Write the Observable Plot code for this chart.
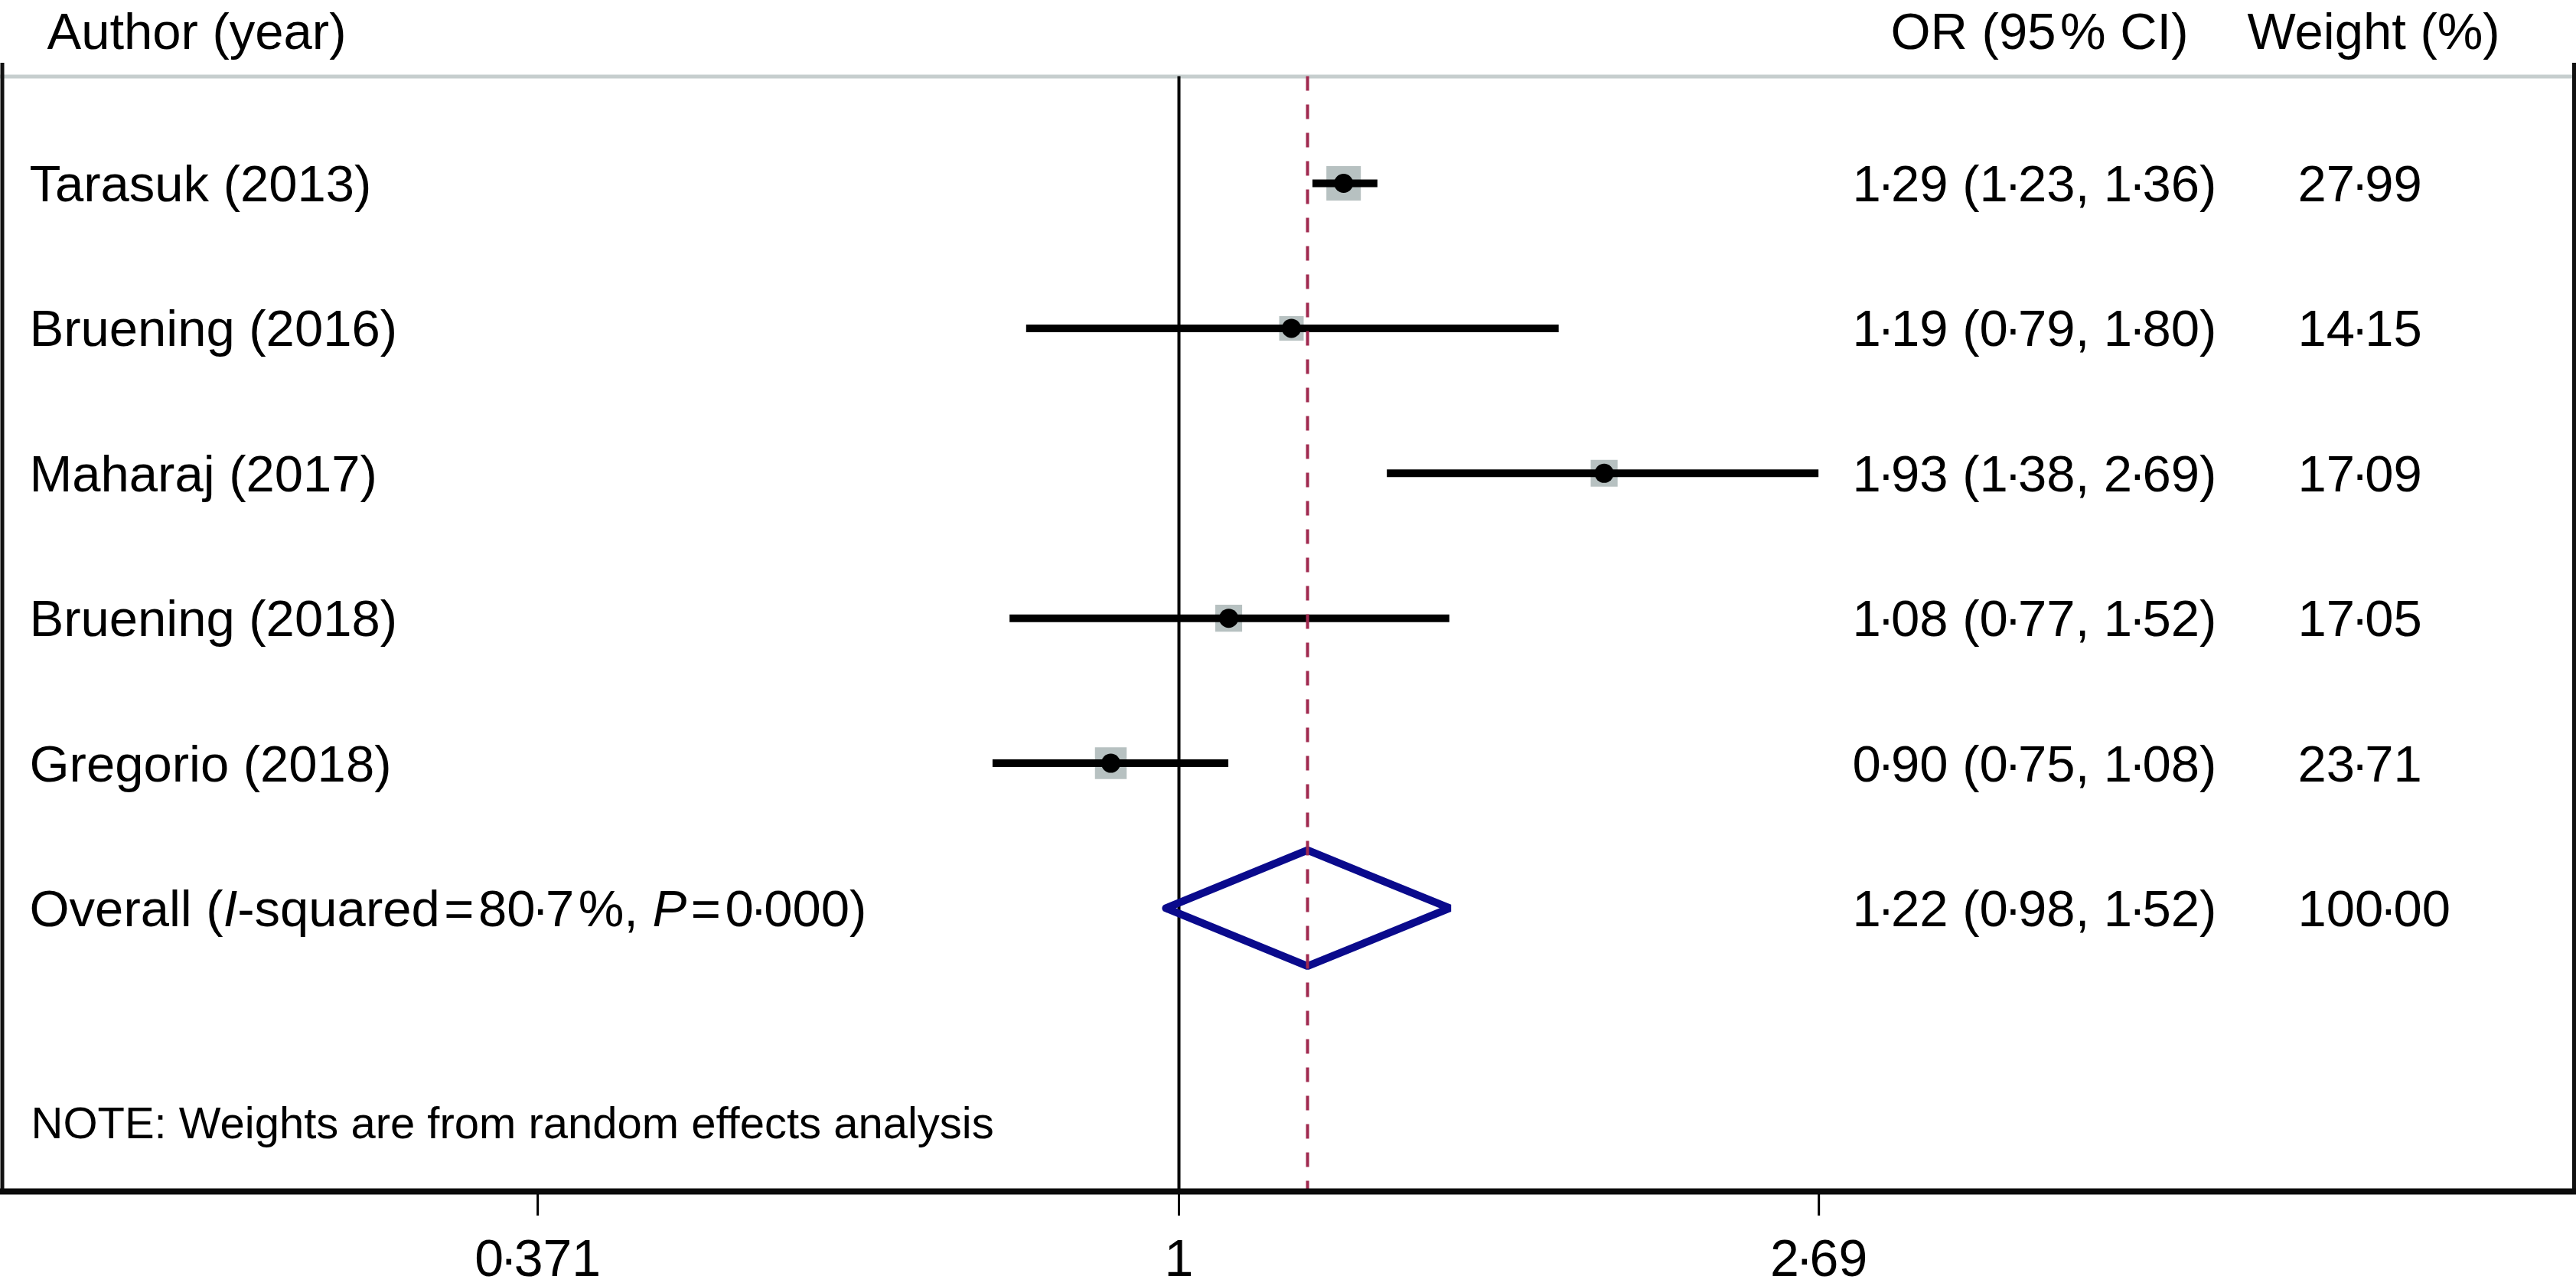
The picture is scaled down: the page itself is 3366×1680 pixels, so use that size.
<!DOCTYPE html>
<html>
<head>
<meta charset="utf-8">
<script src="https://cdn.jsdelivr.net/npm/d3@7"></script>
<script src="https://cdn.jsdelivr.net/npm/@observablehq/plot@0.6"></script>
<style>
  html, body { margin: 0; padding: 0; background: #ffffff; }
  #chart svg { display: block; }
</style>
</head>
<body>
<div id="chart"></div>
<script>
// ---- data ----
const studies = ["Tarasuk (2013)", "Bruening (2016)", "Maharaj (2017)", "Bruening (2018)", "Gregorio (2018)"];
const oddsRatios = [1.29, 1.19, 1.93, 1.08, 0.90];
const lowerCI = [1.23, 0.79, 1.38, 0.77, 0.75];
const upperCI = [1.36, 1.80, 2.69, 1.52, 1.08];
const weights = [27.99, 14.15, 17.09, 17.05, 23.71];
const overallOR = 1.22;
const overallLower = 0.98;
const overallUpper = 1.52;
const overallWeight = 100.00;
const iSquared = "80·7";
const pValue = "0·000";
const tickValues = [0.371, 1, 2.69];
const tickLabels = ["0·371", "1", "2·69"];
const headers = ["Author (year)", "OR (95\u200A% CI)", "Weight (%)"];
const note = "NOTE: Weights are from random effects analysis";

// ---- derived table ----
const fmt = v => v.toFixed(2).replace(".", "·");
const rows = studies.map((name, i) => ({
  name, row: i + 1, or: oddsRatios[i], lo: lowerCI[i], hi: upperCI[i], w: weights[i],
  orText: `${fmt(oddsRatios[i])} (${fmt(lowerCI[i])}, ${fmt(upperCI[i])})`,
  wText: fmt(weights[i])
}));
const overallRow = studies.length + 1;
const overallSegments = [
  ["Overall (", false], ["I", true], [`-squared\u200A=\u200A${iSquared}\u200A%, `, false],
  ["P", true], [`\u200A=\u200A${pValue})`, false]
];
const overallLabel = overallSegments.map(s => s[0]).join("");
const overallTable = [{
  name: overallLabel, row: overallRow,
  orText: `${fmt(overallOR)} (${fmt(overallLower)}, ${fmt(overallUpper)})`,
  wText: fmt(overallWeight)
}];
const diamond = [
  {x: overallLower, y: overallRow},
  {x: overallOR, y: overallRow - 0.4},
  {x: overallUpper, y: overallRow},
  {x: overallOR, y: overallRow + 0.4},
  {x: overallLower, y: overallRow}
];
const tickLabelMap = new Map(tickValues.map((v, i) => [v, tickLabels[i]]));

// ---- layout ----
const W = 3366, H = 1680;
const oneAt = 1540, pxPerLn = 845;
const xDomain = [Math.exp(-oneAt / pxPerLn), Math.exp((W - oneAt) / pxPerLn)];
const yTop = -0.262, yBottom = 7.975;
const headerRow = -0.040, separatorRow = 0.2635, frameTopRow = 0.171, noteRow = 7.478;
const font = "'Liberation Sans', Arial, Helvetica, sans-serif";
const fs = 67;

const allRows = rows.concat(overallTable);

const chart = Plot.plot({
  width: W,
  height: H,
  marginLeft: 0,
  marginRight: 0,
  marginTop: 0,
  marginBottom: 120,
  style: {fontFamily: font, background: "#ffffff", color: "#000"},
  x: {type: "log", domain: xDomain},
  y: {domain: [yBottom, yTop], axis: null},
  r: {type: "sqrt", domain: [0, 27.99], range: [0, 45 / Math.sqrt(Math.PI)]},
  marks: [
    Plot.ruleY([separatorRow], {stroke: "#c6cece", strokeWidth: 5}),
    Plot.ruleX([xDomain[0]], {y1: frameTopRow, y2: yBottom, dx: 2.5, stroke: "#111", strokeWidth: 5}),
    Plot.ruleX([xDomain[1]], {y1: frameTopRow, y2: yBottom, dx: -3, stroke: "#111", strokeWidth: 5}),
    Plot.ruleX([1], {y1: separatorRow, y2: yBottom, stroke: "#000", strokeWidth: 4}),
    Plot.dot(rows, {x: "or", y: "row", r: "w", symbol: "square", fill: "#b7c1c1", stroke: "none"}),
    Plot.ruleY(rows, {x1: "lo", x2: "hi", y: "row", stroke: "#000", strokeWidth: 10}),
    Plot.dot(rows, {x: "or", y: "row", r: 12.5, fill: "#000", stroke: "none"}),
    Plot.line(diamond, {x: "x", y: "y", stroke: "#0a0a8c", strokeWidth: 10, strokeLinejoin: "miter", curve: "linear"}),
    Plot.ruleX([overallOR], {y1: separatorRow, y2: yBottom, stroke: "#a0294f", strokeWidth: 4, strokeDasharray: "19,18"}),
    Plot.ruleY([yBottom], {dy: -4, stroke: "#0a0a0a", strokeWidth: 8}),
    Plot.axisX(tickValues, {
      tickSize: 28, tickPadding: 30, fontSize: 68, stroke: "#000", strokeWidth: 3,
      tickFormat: d => tickLabelMap.get(d), fill: "#000"
    }),
    Plot.text([headers[0]], {y: () => headerRow, text: d => d, frameAnchor: "left", dx: 61, textAnchor: "start", fontSize: fs, fill: "#000"}),
    Plot.text([headers[1]], {y: () => headerRow, text: d => d, frameAnchor: "left", dx: 2470, textAnchor: "start", fontSize: fs, fill: "#000"}),
    Plot.text([headers[2]], {y: () => headerRow, text: d => d, frameAnchor: "left", dx: 2936, textAnchor: "start", fontSize: fs, fill: "#000"}),
    Plot.text(allRows, {y: "row", text: "name", frameAnchor: "left", dx: 38, textAnchor: "start", fontSize: fs, fill: "#000", dy: 2}),
    Plot.text(allRows, {y: "row", text: "orText", frameAnchor: "left", dx: 2420, textAnchor: "start", fontSize: fs, fill: "#000", dy: 2}),
    Plot.text(allRows, {y: "row", text: "wText", frameAnchor: "left", dx: 3002, textAnchor: "start", fontSize: fs, fill: "#000", dy: 2}),
    Plot.text([note], {y: () => noteRow, text: d => d, frameAnchor: "left", dx: 40, textAnchor: "start", fontSize: 58, fill: "#000", dy: 2})
  ]
});

// tighten the raised decimal dot, italicise I and P in the overall label
const DOTK = 4.5;
function rebuild(el, segments) {
  const t = d3.select(el);
  t.text(null);
  let pending = 0;
  for (const [str, italic] of segments) {
    str.split("·").forEach((part, i) => {
      if (i > 0) {
        const dot = t.append("tspan").text("·");
        dot.attr("dx", pending - DOTK);
        pending = -DOTK;
      }
      if (part.length) {
        const s = t.append("tspan").text(part);
        if (italic) s.attr("font-style", "italic");
        if (pending) s.attr("dx", pending);
        pending = 0;
      }
    });
  }
}
d3.select(chart).selectAll("text").each(function() {
  if (this.querySelector("tspan")) return;
  const content = this.textContent;
  if (content === overallLabel) rebuild(this, overallSegments);
  else if (content.includes("·")) rebuild(this, [[content, false]]);
});

document.getElementById("chart").appendChild(chart);
</script>
</body>
</html>
